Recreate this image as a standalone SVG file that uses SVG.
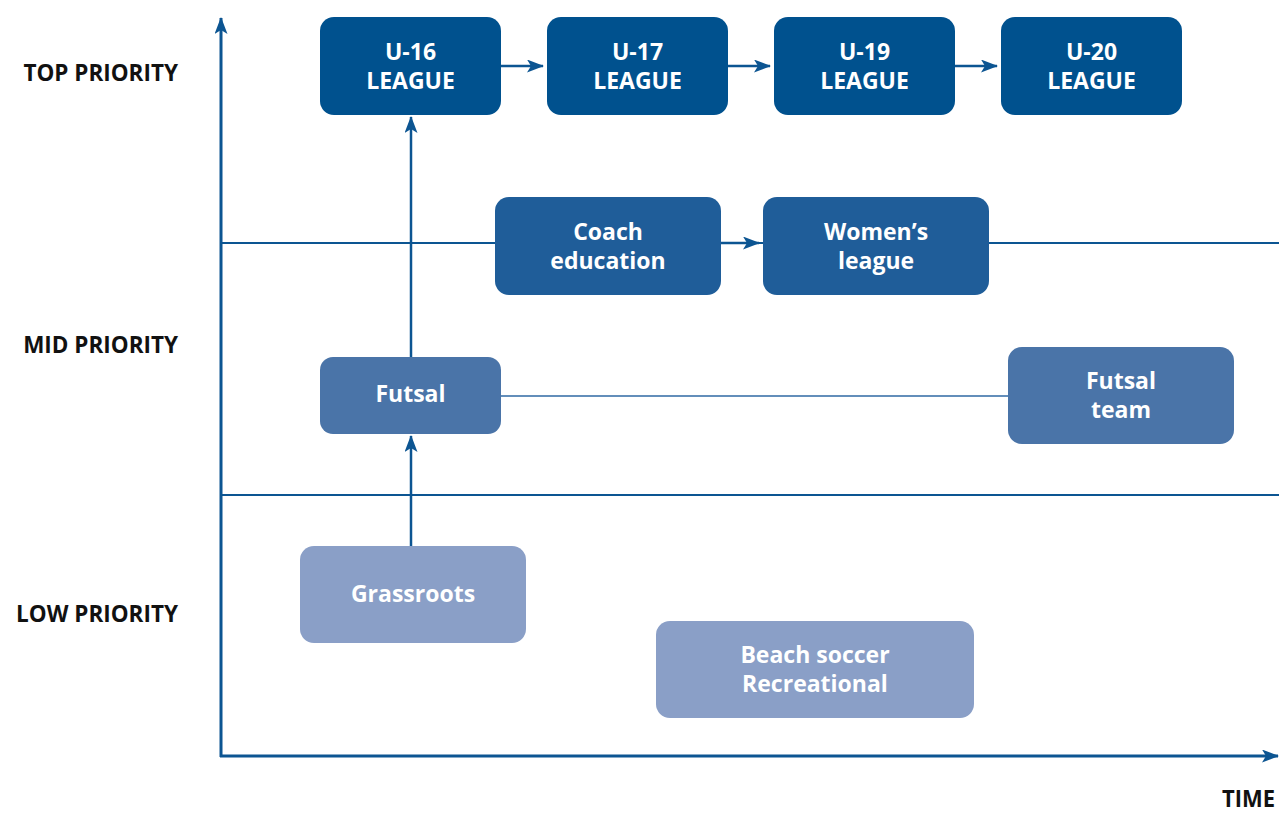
<svg xmlns="http://www.w3.org/2000/svg" width="1279" height="814" viewBox="0 0 1279 814">
  <style>
    .axis { stroke: #0c5592; stroke-width: 3; fill: none; }
    .band { stroke: #0c5592; stroke-width: 2; fill: none; }
    .link { stroke: #0c5592; stroke-width: 2.5; fill: none; }
    .thin { stroke: #2f68a3; stroke-width: 1.3; fill: none; }
    .top { fill: #00518e; }
    .mid { fill: #1f5d99; }
    .fut { fill: #4a74a8; }
    .low { fill: #8a9fc7; }
    .lbl { font-family: "Open Sans", "Noto Sans", "Liberation Sans", sans-serif; font-weight: bold; font-size: 23px; fill: #ffffff; text-anchor: middle; }
    .ax { font-family: "Open Sans", "Noto Sans", "Liberation Sans", sans-serif; font-weight: bold; font-size: 22.5px; fill: #111111; text-anchor: end; }
  </style>
  <defs>
    <marker id="arrow" markerWidth="17" markerHeight="13" refX="16" refY="6.5" orient="auto" markerUnits="userSpaceOnUse">
      <path d="M0,0 L17,6.5 L0,13 L4,6.5 Z" fill="#0c5592"/>
    </marker>
  </defs>

  <!-- axes and priority bands -->
  <g id="axes">
    <line class="axis" x1="221" y1="757" x2="221" y2="18" marker-end="url(#arrow)"/>
    <line class="axis" x1="220" y1="756" x2="1278" y2="756" marker-end="url(#arrow)"/>
    <line class="band" x1="221" y1="243" x2="1279" y2="243"/>
    <line class="band" x1="221" y1="495" x2="1279" y2="495"/>
    <text class="ax" x="178" y="81">TOP PRIORITY</text>
    <text class="ax" x="178" y="353">MID PRIORITY</text>
    <text class="ax" x="178" y="622">LOW PRIORITY</text>
    <text class="ax" x="1275" y="807" textLength="53" lengthAdjust="spacingAndGlyphs">TIME</text>
  </g>

  <!-- connectors -->
  <g id="connectors">
    <line class="link" x1="501" y1="66" x2="543" y2="66" marker-end="url(#arrow)"/>
    <line class="link" x1="728" y1="66" x2="770" y2="66" marker-end="url(#arrow)"/>
    <line class="link" x1="955" y1="66" x2="997" y2="66" marker-end="url(#arrow)"/>
    <line class="link" x1="721" y1="243" x2="759" y2="243" marker-end="url(#arrow)"/>
    <line class="link" x1="411" y1="357" x2="411" y2="117" marker-end="url(#arrow)"/>
    <line class="link" x1="411" y1="546" x2="411" y2="436" marker-end="url(#arrow)"/>
    <line class="thin" x1="501" y1="396" x2="1008" y2="396"/>
  </g>

  <g id="u16">
    <rect class="top" x="320" y="17" width="181" height="98" rx="14"/>
    <text class="lbl" x="410.5" y="60">U-16</text>
    <text class="lbl" x="410.5" y="89">LEAGUE</text>
  </g>
  <g id="u17">
    <rect class="top" x="547" y="17" width="181" height="98" rx="14"/>
    <text class="lbl" x="637.5" y="60">U-17</text>
    <text class="lbl" x="637.5" y="89">LEAGUE</text>
  </g>
  <g id="u19">
    <rect class="top" x="774" y="17" width="181" height="98" rx="14"/>
    <text class="lbl" x="864.5" y="60">U-19</text>
    <text class="lbl" x="864.5" y="89">LEAGUE</text>
  </g>
  <g id="u20">
    <rect class="top" x="1001" y="17" width="181" height="98" rx="14"/>
    <text class="lbl" x="1091.5" y="60">U-20</text>
    <text class="lbl" x="1091.5" y="89">LEAGUE</text>
  </g>

  <g id="coach">
    <rect class="mid" x="495" y="197" width="226" height="98" rx="14"/>
    <text class="lbl" x="608" y="239.5">Coach</text>
    <text class="lbl" x="608" y="268.5">education</text>
  </g>
  <g id="women">
    <rect class="mid" x="763" y="197" width="226" height="98" rx="14"/>
    <text class="lbl" x="876" y="239.5">Women’s</text>
    <text class="lbl" x="876" y="268.5">league</text>
  </g>

  <g id="futsal">
    <rect class="fut" x="320" y="357" width="181" height="77" rx="13"/>
    <text class="lbl" x="410.5" y="402">Futsal</text>
  </g>
  <g id="futsal-team">
    <rect class="fut" x="1008" y="347" width="226" height="97" rx="14"/>
    <text class="lbl" x="1121" y="388.5">Futsal</text>
    <text class="lbl" x="1121" y="417.5">team</text>
  </g>

  <g id="grassroots">
    <rect class="low" x="300" y="546" width="226" height="97" rx="14"/>
    <text class="lbl" x="413" y="602">Grassroots</text>
  </g>
  <g id="beach">
    <rect class="low" x="656" y="621" width="318" height="97" rx="14"/>
    <text class="lbl" x="815" y="663">Beach soccer</text>
    <text class="lbl" x="815" y="692">Recreational</text>
  </g>
</svg>
